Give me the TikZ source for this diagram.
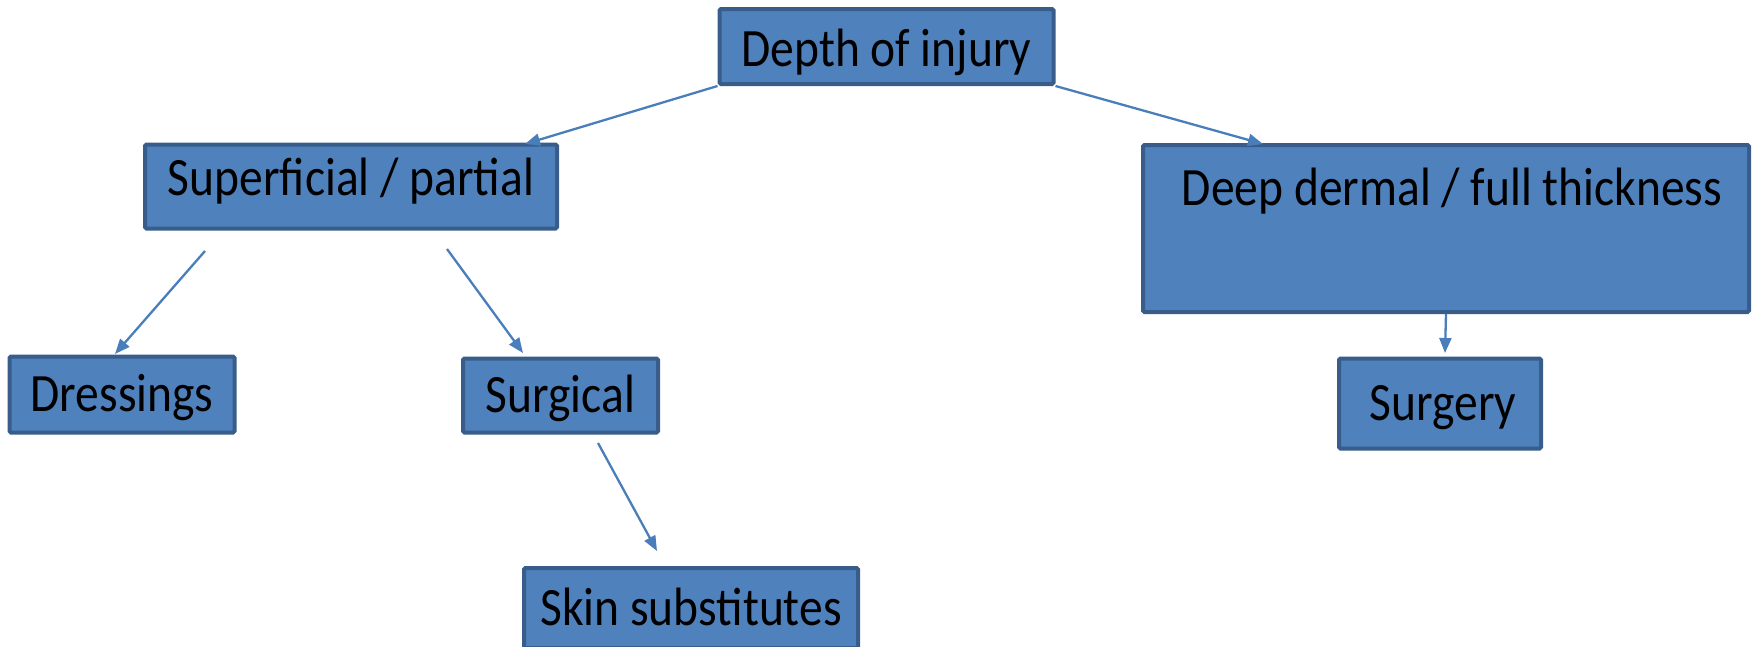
\documentclass[tikz,border=0pt]{standalone}
\usepackage{fontspec}
\usepackage{graphicx}
\setmainfont{Carlito}
\usetikzlibrary{arrows.meta}
\definecolor{boxfill}{HTML}{4F81BD}
\definecolor{boxline}{HTML}{385D8A}
\definecolor{arrowcol}{HTML}{4A7EBB}
\newcommand{\nt}[1]{\scalebox{0.88}[1]{#1}}
\begin{document}
\begin{tikzpicture}[x=1pt,y=-1pt,
  box/.style={draw=boxline, fill=boxfill, line width=4pt, rounded corners=1.5pt,
    inner sep=0pt, font=\fontsize{54}{60}\selectfont, text height=34pt, text depth=0pt},
  lbl/.style={inner sep=0pt, font=\fontsize{54}{60}\selectfont, text height=34pt, text depth=0pt},
  conn/.style={draw=arrowcol, line width=2.3pt, -{Triangle[length=15pt,width=12pt]}}]
\useasboundingbox (0,0) rectangle (1758,646);
\node[box, minimum width=334pt, minimum height=75pt, text height=40pt] (depth) at (886.5,46.5) {\nt{Depth of injury}};
\node[box, minimum width=412pt, minimum height=84pt, text depth=16pt] (sup) at (351,186.5) {\nt{Superficial / partial}};
\node[box, minimum width=606pt, minimum height=167pt] (deep) at (1446,228.5) {};
\node[lbl] (deeptext) at (1452,188) {\nt{Deep dermal / full thickness}};
\node[box, minimum width=225pt, minimum height=76pt] (dress) at (122,394.5) {\nt{Dressings}};
\node[box, minimum width=195pt, minimum height=74pt] (surgical) at (560.5,395.5) {\nt{Surgical}};
\node[box, minimum width=202pt, minimum height=90pt] (surgery) at (1440,403.5) {\hspace*{6pt}\nt{Surgery}};
\node[box, minimum width=334pt, minimum height=80pt] (skin) at (691,608) {\nt{Skin substitutes}};
\coordinate (a1) at (525,144);
\coordinate (a2) at (1263,144);
\coordinate (s3) at (205,251);
\coordinate (e3) at (115,354);
\coordinate (s4) at (447,249);
\coordinate (e4) at (523,353);
\coordinate (s5) at (598,443);
\coordinate (e5) at (657,551);
\coordinate (s6) at (deep.south);
\coordinate (e6) at (1445,353);
\draw[conn] (depth.south west) -- (a1);
\draw[conn] (depth.south east) -- (a2);
\draw[conn] (s3) -- (e3);
\draw[conn] (s4) -- (e4);
\draw[conn] (s5) -- (e5);
\draw[conn] (s6) -- (e6);
\end{tikzpicture}
\end{document}
